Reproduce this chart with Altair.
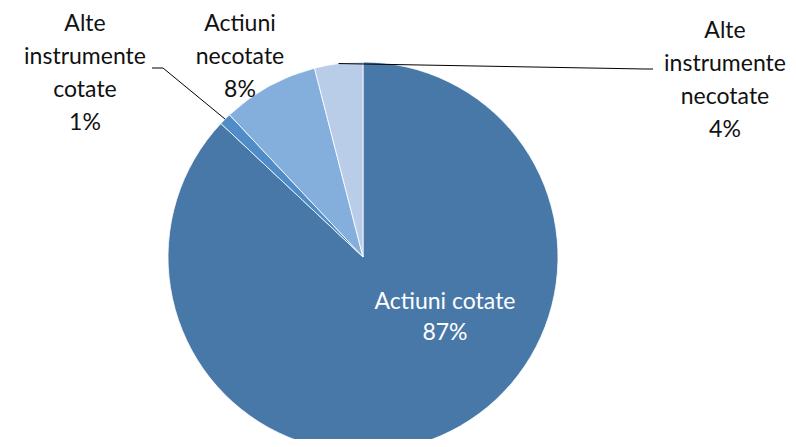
import math
import altair as alt
import pandas as pd

# ---- data ----
categories = ["Actiuni cotate", "Alte instrumente cotate", "Actiuni necotate", "Alte instrumente necotate"]
label_text = ["Actiuni cotate", "Alte\ninstrumente\ncotate", "Actiuni\nnecotate", "Alte\ninstrumente\nnecotate"]
shares = [87, 1, 8, 4]
colors = ["#4878A8", "#4F8CC8", "#84AEDC", "#B9CDE9"]

# ---- layout (pixels relative to pie centre, y up; y = first text line centre) ----
W, H = 780, 431
CX, CY = 355, 249
R = 195
label_pos = [(82, -45), (-278, 233), (-123, 233), (362, 226)]
label_lh = [31, 33, 33, 33]
label_color = ["white", "#111111", "#111111", "#111111"]
leaders = {1: [(-200, 189), (-211, 189)], 3: [(282, 188), (290, 188)]}

total = sum(shares)
pie = pd.DataFrame({"cat": categories, "v": shares, "o": range(len(shares))})

txt = pd.DataFrame({
    "t": [f"{l}\n{v}%" for l, v in zip(label_text, shares)],
    "x": [p[0] for p in label_pos],
    "y": [p[1] for p in label_pos],
    "c": label_color,
    "lh": label_lh,
})

rows = []
cum = 0
for i, v in enumerate(shares):
    mid = 2 * math.pi * (cum + v / 2) / total
    cum += v
    if i in leaders:
        pts = [(R * math.sin(mid), R * math.cos(mid))] + leaders[i]
        for k, (x, y) in enumerate(pts):
            rows.append({"g": categories[i], "k": k, "x": x, "y": y})
lines = pd.DataFrame(rows)

xs = alt.Scale(domain=[-CX, W - CX], nice=False, zero=False)
ys = alt.Scale(domain=[-(H - CY), CY], nice=False, zero=False)

arc = alt.Chart(pie).mark_arc(x=CX, y=CY, radius=R, stroke="white", strokeWidth=0.8).encode(
    theta=alt.Theta("v:Q", stack=True),
    order=alt.Order("o:Q"),
    color=alt.Color("cat:N", scale=alt.Scale(domain=categories, range=colors), legend=None),
)

lead = alt.Chart(lines).mark_line(color="black", strokeWidth=1).encode(
    x=alt.X("x:Q", scale=xs, axis=None),
    y=alt.Y("y:Q", scale=ys, axis=None),
    detail="g:N",
    order="k:Q",
)

def text_layer(df, lh):
    return alt.Chart(df).mark_text(
        font="Lato", fontSize=23, lineBreak="\n", lineHeight=lh, align="center", baseline="middle"
    ).encode(
        x=alt.X("x:Q", scale=xs, axis=None),
        y=alt.Y("y:Q", scale=ys, axis=None),
        text="t:N",
        color=alt.Color("c:N", scale=None),
    )

texts = [text_layer(txt[txt.lh == lh], lh) for lh in sorted(set(label_lh))]

chart = alt.layer(arc, lead, *texts).properties(
    width=W, height=H, padding=0, autosize=alt.AutoSizeParams(type="none")
).configure_view(stroke=None)

chart.save("out.html", embed_options={"renderer": "svg", "actions": False})
